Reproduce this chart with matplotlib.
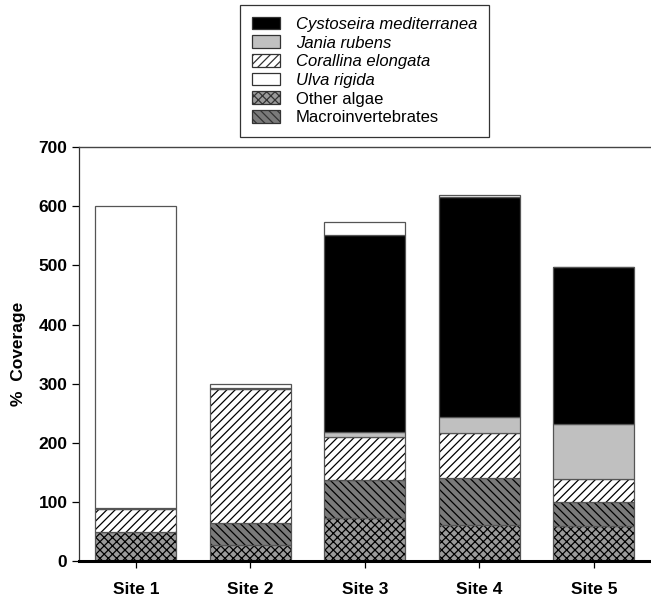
import numpy as np
import matplotlib.pyplot as plt
import matplotlib.patches as mpatches

plt.rcParams['font.family'] = ['Liberation Sans', 'DejaVu Sans']
plt.rcParams['hatch.linewidth'] = 0.9

# ============================
# Data: % coverage per site, stacked bottom -> top
# ============================
sites = ['Site 1', 'Site 2', 'Site 3', 'Site 4', 'Site 5']
other_algae = [49, 27, 73, 61, 60]
macroinvertebrates = [0, 37, 64, 79, 39]
corallina = [39, 227, 72, 77, 39]
jania = [2, 1, 10, 26, 94]
cystoseira = [0, 0, 333, 373, 266]
ulva = [510, 7, 21, 3, 0]

# (values, label, facecolor, hatch, italic) in stacking order
layers = [
    (other_algae, 'Other algae', '#9a9a9a', 'xxxx', False),
    (macroinvertebrates, 'Macroinvertebrates', '#7a7a7a', '\\\\\\\\', False),
    (corallina, 'Corallina elongata', 'white', '////', True),
    (jania, 'Jania rubens', '#c0c0c0', '', True),
    (cystoseira, 'Cystoseira mediterranea', 'black', '', True),
    (ulva, 'Ulva rigida', 'white', '', True),
]

fig = plt.figure(figsize=(6.51, 5.97), dpi=100)
ax = fig.add_axes([0.1206, 0.0603, 0.8794, 0.693])

x = np.arange(len(sites))
width = 0.707
bottom = np.zeros(len(sites))
handles = {}
for vals, label, face, hatch, italic in layers:
    vals = np.array(vals, dtype=float)
    # filled segment with black hatch, then thin grey outline on top
    ax.bar(x, vals, width, bottom=bottom, color=face, edgecolor='black',
           hatch=hatch, linewidth=0)
    ax.bar(x, vals, width, bottom=bottom, fill=False, edgecolor='#555555',
           linewidth=0.9)
    handles[label] = (mpatches.Patch(facecolor=face, edgecolor='#333333',
                                     hatch=hatch, linewidth=0.9), italic)
    bottom += vals

ax.set_xlim(-0.5, 4.5)
ax.set_ylim(0, 700)
ax.set_yticks(np.arange(0, 701, 100))
ax.set_xticks(x)
ax.set_xticklabels(sites, fontsize=12.5, fontweight='bold')
for lab in ax.get_yticklabels():
    lab.set_fontsize(12.5)
    lab.set_fontweight('bold')
ax.tick_params(axis='y', direction='out', length=5, width=0.9, pad=3)
ax.tick_params(axis='x', direction='out', length=5, width=0.9, pad=10)
ax.set_ylabel('%  Coverage', fontsize=12.5, fontweight='bold', labelpad=9)

ax.spines['right'].set_visible(False)
ax.spines['top'].set_color('#444444')
ax.spines['top'].set_linewidth(1.0)
ax.spines['left'].set_color('#333333')
ax.spines['left'].set_linewidth(0.9)
ax.spines['bottom'].set_color('black')
ax.spines['bottom'].set_linewidth(2.2)

order = ['Cystoseira mediterranea', 'Jania rubens', 'Corallina elongata',
         'Ulva rigida', 'Other algae', 'Macroinvertebrates']
leg = fig.legend([handles[k][0] for k in order], order,
                 loc='upper left', bbox_to_anchor=(240 / 651, 1 - 5 / 597),
                 fontsize=12, frameon=True, fancybox=False, edgecolor='black',
                 handlelength=1.7, handleheight=0.8, handletextpad=0.95,
                 labelspacing=0.21, borderpad=0.7, borderaxespad=0)
leg.get_frame().set_linewidth(0.9)
for txt, k in zip(leg.get_texts(), order):
    if handles[k][1]:
        txt.set_fontstyle('italic')

fig.savefig('out.png', dpi=100)
